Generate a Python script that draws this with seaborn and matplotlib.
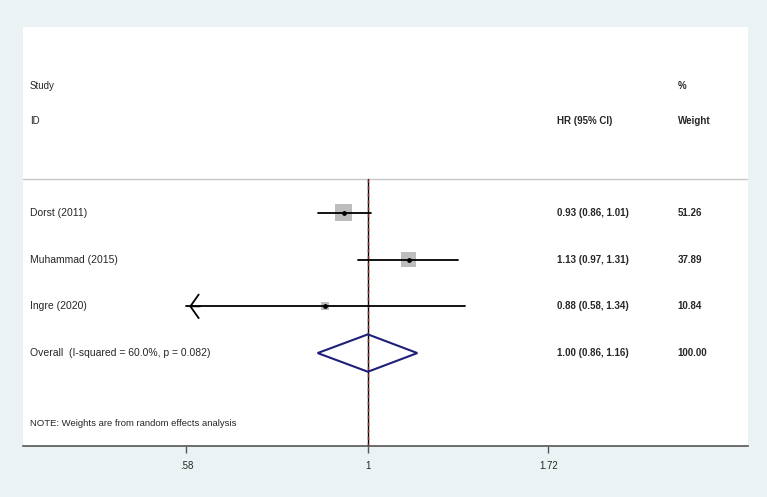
"""Forest plot: HR per study with random-effects pooled estimate (Stata metan style)."""

import matplotlib
matplotlib.use("Agg")
import matplotlib.pyplot as plt
import matplotlib.transforms as mtransforms
from matplotlib.patches import FancyArrowPatch
import numpy as np
import pandas as pd
import seaborn as sns

# data
studies = ["Dorst (2011)", "Muhammad (2015)", "Ingre (2020)"]
hr = [0.93, 1.13, 0.88]
ci_low = [0.86, 0.97, 0.58]
ci_high = [1.01, 1.31, 1.34]
weights = [51.26, 37.89, 10.84]
hr_text = ["0.93 (0.86, 1.01)", "1.13 (0.97, 1.31)", "0.88 (0.58, 1.34)"]
weight_text = ["51.26", "37.89", "10.84"]

overall_label = "Overall  (I-squared = 60.0%, p = 0.082)"
overall_hr = 1.00
overall_low = 0.86
overall_high = 1.16
overall_hr_text = "1.00 (0.86, 1.16)"
overall_weight_text = "100.00"
note = "NOTE: Weights are from random effects analysis"

xticks = [0.58, 1, 1.72]
xtick_labels = [".58", "1", "1.72"]

BG = "#eaf2f3"
sns.set_style("white")
plt.rcParams["font.family"] = ["Liberation Sans", "DejaVu Sans"]
FS_HEAD = 7      # Study / ID headers
FS_LABEL = 7.5   # study labels
FS_NOTE = 6.8
FS_RIGHT = 7     # bold right-hand columns
FS_TICK = 7

df = pd.DataFrame({"study": studies, "hr": hr, "lo": ci_low, "hi": ci_high,
                   "weight": weights, "row": np.arange(len(studies))})

fig = plt.figure(figsize=(7.67, 4.97), dpi=100, facecolor=BG)
ax = fig.add_axes([0.030, 0.1026, 0.945, 0.843])
ax.set_facecolor("white")
ax.set_xscale("log")
ax.set_xlim(0.355, 3.13)
ax.set_ylim(4.99, -3.98)

overall_row = len(studies)
sep_row = -0.73

# reference line at 1 (solid black) and overall effect line (dashed red)
ax.plot([1, 1], [sep_row, 4.99], color="black", lw=1.0, zorder=2)
ax.plot([overall_hr, overall_hr], [sep_row, 4.99], color="#8b2323", lw=1.0,
        ls=(0, (2.5, 2.5)), zorder=3)

# header separator
ax.axhline(sep_row, color="#c8c8c8", lw=1.0, zorder=1)

# weight boxes (area proportional to weight)
sns.scatterplot(data=df, x="hr", y="row", size="weight",
                sizes=(150 * min(weights) / 51.26, 150 * max(weights) / 51.26),
                size_norm=(min(weights), max(weights)), marker="s", color="#bdbdbd",
                edgecolor="none", legend=False, ax=ax, zorder=4)

# confidence intervals
xmin_tick = min(xticks)
for r in df.itertuples():
    if r.lo <= xmin_tick:
        ax.plot([xmin_tick, r.hi], [r.row, r.row], color="black", lw=1.3, zorder=5)
        arr = FancyArrowPatch((xmin_tick * 1.05, r.row), (xmin_tick, r.row),
                              arrowstyle="->,head_length=0.6,head_width=0.85",
                              mutation_scale=10, color="black", lw=1.3, zorder=5)
        ax.add_patch(arr)
    else:
        ax.plot([r.lo, r.hi], [r.row, r.row], color="black", lw=1.3, zorder=5)
ax.scatter(df["hr"], df["row"], s=6, color="black", zorder=6)

# overall diamond
half_h = 0.4
ax.fill([overall_low, overall_hr, overall_high, overall_hr],
        [overall_row, overall_row - half_h, overall_row, overall_row + half_h],
        facecolor="none", edgecolor="#1f1f7a", lw=1.5, zorder=6)

# text columns
trans = mtransforms.blended_transform_factory(ax.transAxes, ax.transData)
x_study, x_hr, x_w = 0.0097, 0.7366, 0.9034
ax.text(x_study, -2.72, "Study", transform=trans, fontsize=FS_HEAD, va="center")
ax.text(x_study, -1.97, "ID", transform=trans, fontsize=FS_HEAD, va="center")
ax.text(x_hr, -1.97, "HR (95% CI)", transform=trans, fontsize=FS_RIGHT, va="center", fontweight="bold")
ax.text(x_w, -2.72, "%", transform=trans, fontsize=FS_RIGHT, va="center", fontweight="bold")
ax.text(x_w, -1.97, "Weight", transform=trans, fontsize=FS_RIGHT, va="center", fontweight="bold")

for i, s in enumerate(studies):
    ax.text(x_study, i, s, transform=trans, fontsize=FS_LABEL, va="center")
    ax.text(x_hr, i, hr_text[i], transform=trans, fontsize=FS_RIGHT, va="center", fontweight="bold")
    ax.text(x_w, i, weight_text[i], transform=trans, fontsize=FS_RIGHT, va="center", fontweight="bold")
ax.text(x_study, overall_row, overall_label, transform=trans, fontsize=FS_LABEL, va="center")
ax.text(x_hr, overall_row, overall_hr_text, transform=trans, fontsize=FS_RIGHT, va="center", fontweight="bold")
ax.text(x_w, overall_row, overall_weight_text, transform=trans, fontsize=FS_RIGHT, va="center", fontweight="bold")
ax.text(x_study, 4.5, note, transform=trans, fontsize=FS_NOTE, va="center")

# axes styling
for side in ["left", "top", "right"]:
    ax.spines[side].set_visible(False)
ax.spines["bottom"].set_color("#555555")
ax.spines["bottom"].set_linewidth(1.2)
ax.set_yticks([])
ax.set_xticks(xticks)
ax.set_xticklabels(xtick_labels, fontsize=FS_TICK)
ax.xaxis.set_minor_locator(matplotlib.ticker.NullLocator())
ax.tick_params(axis="x", direction="out", length=5, width=1, color="#555555", pad=6, bottom=True)
ax.set_xlabel("")
ax.set_ylabel("")

fig.savefig("out.png", dpi=100, facecolor=BG)
